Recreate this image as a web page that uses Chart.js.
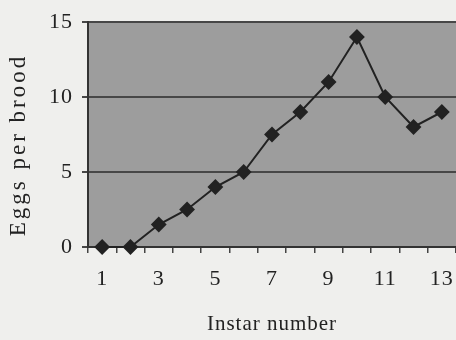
<!DOCTYPE html>
<html>
<head>
<meta charset="utf-8">
<script src="https://cdn.jsdelivr.net/npm/chart.js@4"></script>
<style>
  html, body { margin: 0; padding: 0; background: #efefed; }
  #wrap { width: 456px; height: 340px; position: relative; }
</style>
</head>
<body>
<div id="wrap"><canvas id="c"></canvas></div>
<script>
const instars = ['1', '2', '3', '4', '5', '6', '7', '8', '9', '10', '11', '12', '13'];
const eggsPerBrood = [0, 0, 1.5, 2.5, 4, 5, 7.5, 9, 11, 14, 10, 8, 9];
const yTicks = [0, 5, 10, 15];
const yTitle = 'Eggs per brood';

const serif = "'Liberation Serif', 'DejaVu Serif', serif";

// grey plot background like the old spreadsheet chart, plus the wide-set scan lettering
const plotBg = {
    id: 'plotBg',
    beforeDraw(chart) {
        const { ctx, chartArea: a } = chart;
        ctx.letterSpacing = '1px';
        ctx.save();
        ctx.fillStyle = '#9d9d9d';
        ctx.fillRect(a.left, a.top, a.right - a.left, a.bottom - a.top);
        ctx.restore();
    },
    afterDraw(chart) {
        // y title drawn by hand so it can get the stretched letter spacing of the scan
        const { ctx } = chart;
        ctx.save();
        ctx.letterSpacing = '3px';
        ctx.translate(19, 145);
        ctx.rotate(-Math.PI / 2);
        ctx.fillStyle = '#222';
        ctx.font = `23px ${serif}`;
        ctx.textAlign = 'center';
        ctx.textBaseline = 'middle';
        ctx.fillText(yTitle, 0, 0);
        ctx.restore();
    }
};

new Chart(document.getElementById('c'), {
    type: 'line',
    data: {
        labels: instars,
        datasets: [{
            data: eggsPerBrood,
            borderColor: '#222',
            borderWidth: 2,
            pointStyle: 'rectRot',
            pointRadius: 6.5,
            pointBackgroundColor: '#222',
            pointBorderColor: '#222',
            tension: 0,
            clip: false
        }]
    },
    options: {
        responsive: true,
        maintainAspectRatio: false,
        animation: false,
        layout: { autoPadding: false, padding: { left: 0, right: 0, top: 22, bottom: 0 } },
        plugins: { legend: { display: false }, tooltip: { enabled: false } },
        scales: {
            x: {
                offset: true,
                afterFit: s => { s.height = 93; s.paddingLeft = 0; s.paddingRight = 0; },
                grid: { offset: true, drawOnChartArea: false, drawTicks: true, tickLength: 6, color: '#444', lineWidth: 1.5 },
                border: { display: true, color: '#333', width: 2 },
                ticks: {
                    color: '#222',
                    font: { family: serif, size: 22 },
                    autoSkip: false,
                    maxRotation: 0,
                    padding: 13,
                    callback: (v, i) => (i % 2 === 0 ? instars[i] : '')
                },
                title: {
                    display: true,
                    text: 'Instar number',
                    color: '#222',
                    font: { family: serif, size: 21 },
                    padding: { top: 0, bottom: 3 }
                }
            },
            y: {
                min: 0,
                max: 15,
                afterBuildTicks: s => { s.ticks = yTicks.map(v => ({ value: v })); },
                afterFit: s => { s.width = 88; s.paddingTop = 0; s.paddingBottom = 0; },
                grid: { color: '#474747', lineWidth: 2, tickLength: 6 },
                border: { display: true, color: '#333', width: 2 },
                ticks: {
                    color: '#222',
                    font: { family: serif, size: 22 },
                    padding: 9
                },
                title: { display: false }
            }
        }
    },
    plugins: [plotBg]
});
</script>
</body>
</html>
